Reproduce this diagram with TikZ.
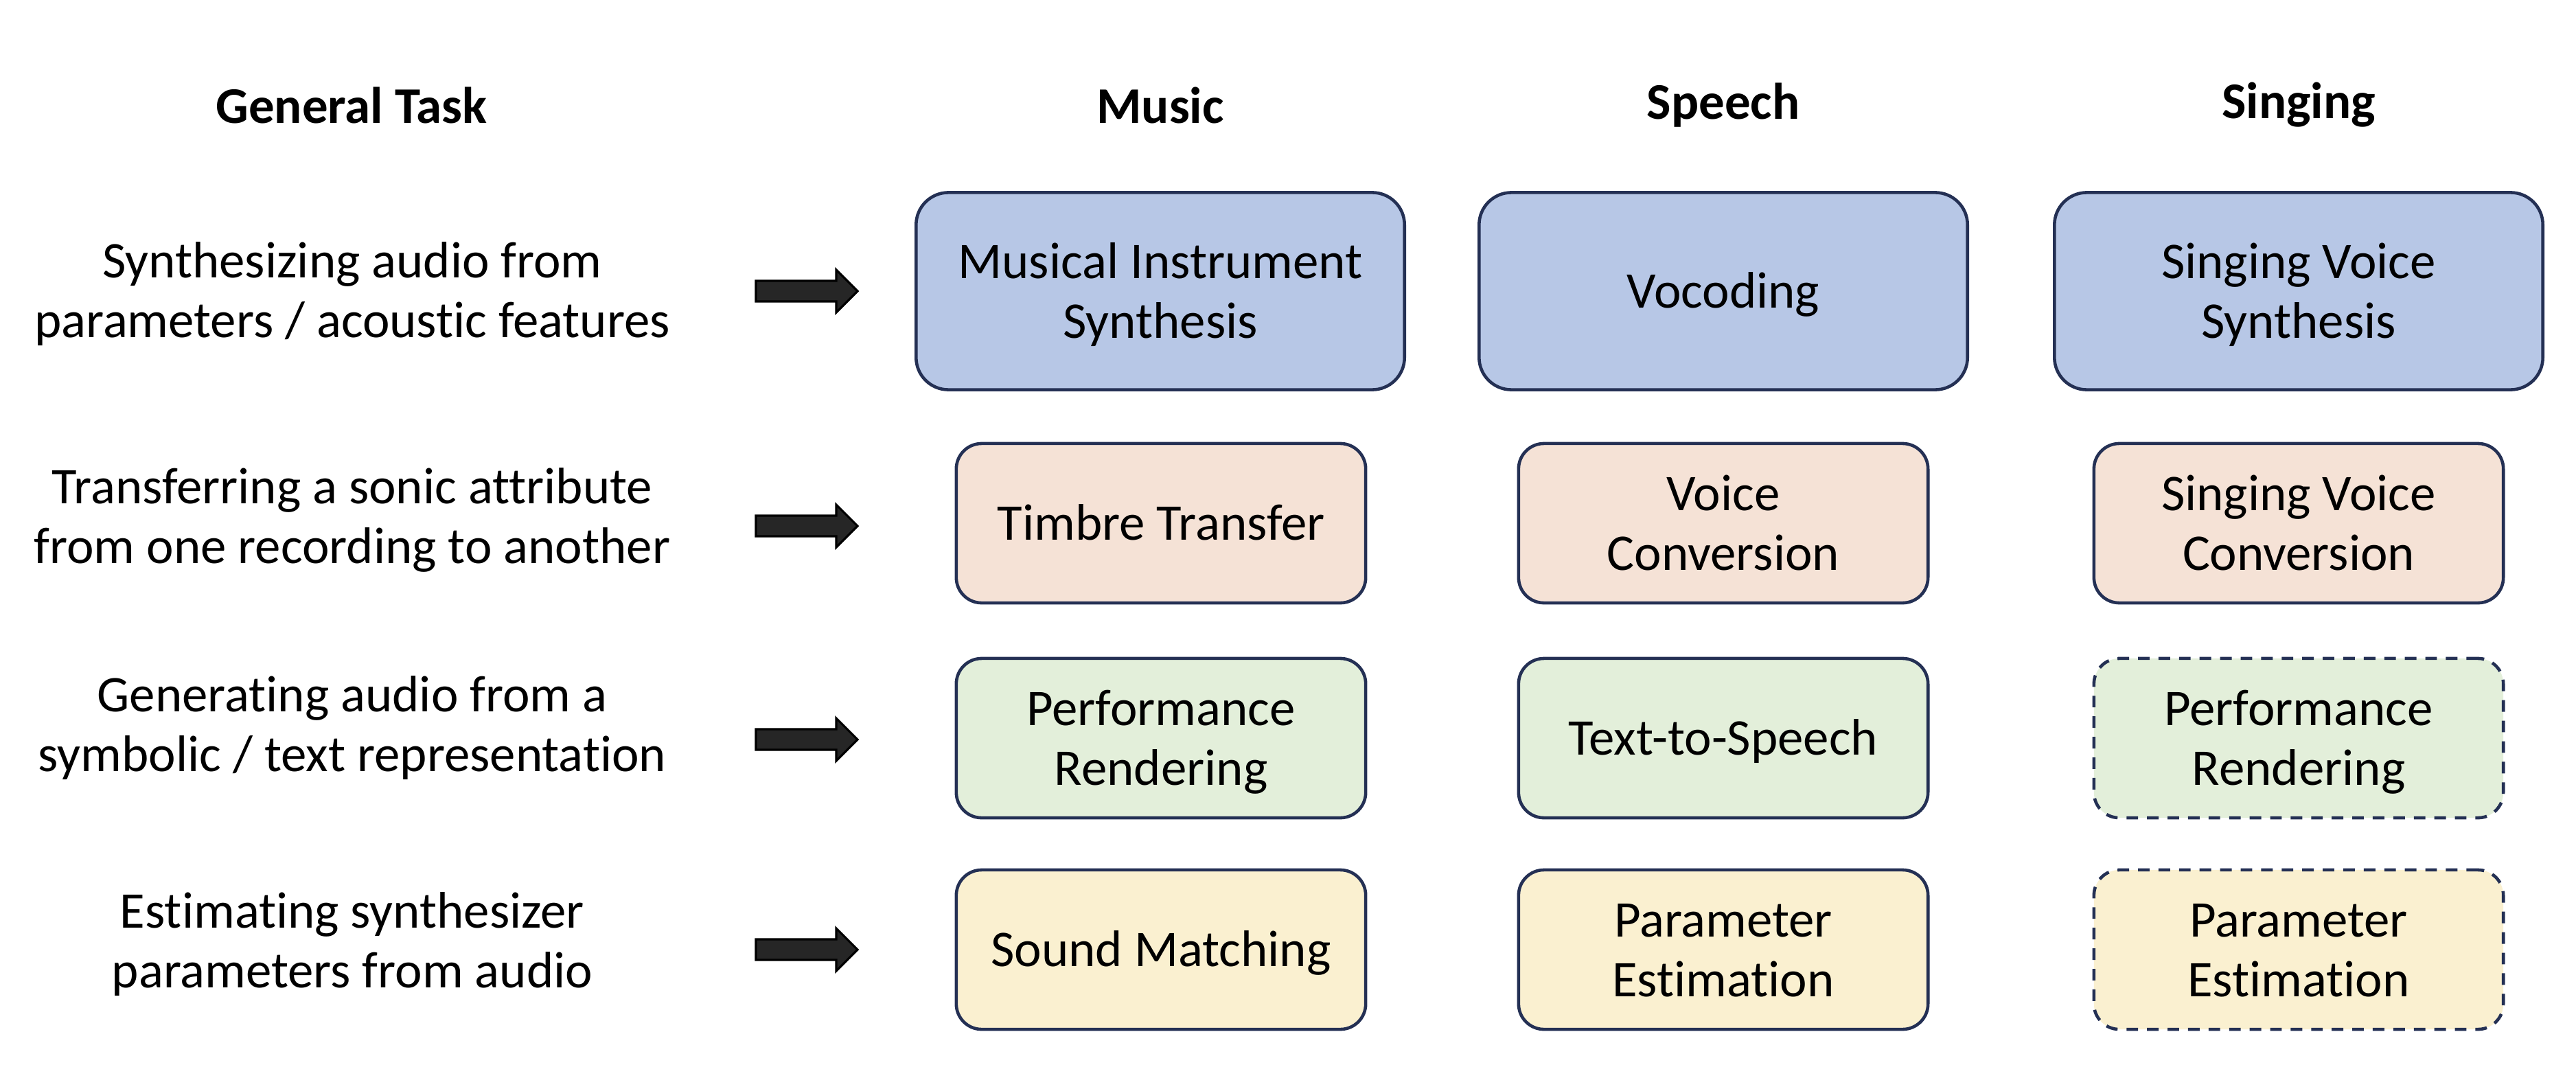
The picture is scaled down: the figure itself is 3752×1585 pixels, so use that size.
\documentclass[tikz,border=0pt]{standalone}
\usepackage{fontspec}
\setmainfont{Carlito}[Ligatures=NoCommon]
\usetikzlibrary{positioning}
\definecolor{boxline}{HTML}{243054}
\definecolor{arrowfill}{HTML}{262626}
\definecolor{synthblue}{HTML}{B7C7E6}
\definecolor{transpeach}{HTML}{F5E2D6}
\definecolor{rendgreen}{HTML}{E3EFDA}
\definecolor{estyellow}{HTML}{FAF0D0}
\newcommand{\diagfont}{\fontsize{21.3}{24.7}\selectfont}
\tikzset{
	taskbox/.style={draw=boxline, line width=1.3pt, rounded corners=0.37cm, minimum width=5.96cm, minimum height=2.32cm, align=center, inner sep=0pt,
		text height=19pt, text depth=5pt},
	twoline/.style={text height=43.7pt},
	bigbox/.style={taskbox, rounded corners=0.47cm, minimum width=7.11cm, minimum height=2.87cm},
	maybe/.style={dash pattern=on 4.8pt off 3.7pt},
	colhead/.style={font=\diagfont\bfseries},
	tasktext/.style={align=center}
}
\begin{document}
\begin{tikzpicture}[x=0.01cm, y=-0.01cm, font=\diagfont, line join=round]
	\useasboundingbox (0,0) rectangle (3752,1585);
	% Tieu de cot
	\node[colhead] (hgen) at (512,153) {General Task};
	\node[colhead] (hmus) at (1690,153) {Music};
	\node[colhead] (hspe) at (2510,153) {Speech};
	\node[colhead] (hsin) at (3348,153) {Singing};
	% Nhiem vu chung
	\node[tasktext] (t1) at (513,428) {Synthesizing audio from\\parameters / acoustic features};
	\node[tasktext] (t2) at (513,757) {Transferring a sonic attribute\\from one recording to another};
	\node[tasktext] (t3) at (513,1060) {Generating audio from a\\symbolic / text representation};
	\node[tasktext] (t4) at (513,1375) {Estimating synthesizer\\parameters from audio};
	% Mui ten
	\foreach \y in {424,766,1077,1383}
		\draw[fill=arrowfill, line width=0.9pt, line join=miter] (1101,{\y-15}) -- (1218,{\y-15}) -- (1218,{\y-31}) -- (1249,\y) -- (1218,{\y+31}) -- (1218,{\y+15}) -- (1101,{\y+15}) -- cycle;
	% Hang 1
	\node[bigbox, twoline, fill=synthblue] (m1) at (1690,424) {Musical Instrument\\Synthesis};
	\node[bigbox, fill=synthblue] (s1) at (2510,424) {Vocoding};
	\node[bigbox, twoline, fill=synthblue] (g1) at (3348,424) {Singing Voice\\Synthesis};
	% Hang 2
	\node[taskbox, fill=transpeach] (m2) at (1691,762) {Timbre Transfer};
	\node[taskbox, twoline, fill=transpeach] (s2) at (2510,762) {Voice\\Conversion};
	\node[taskbox, twoline, fill=transpeach] (g2) at (3348,762) {Singing Voice\\Conversion};
	% Hang 3
	\node[taskbox, twoline, fill=rendgreen] (m3) at (1691,1075) {Performance\\Rendering};
	\node[taskbox, fill=rendgreen] (s3) at (2510,1075) {Text-to-Speech};
	\node[taskbox, twoline, fill=rendgreen, maybe] (g3) at (3348,1075) {Performance\\Rendering};
	% Hang 4
	\node[taskbox, fill=estyellow] (m4) at (1691,1383) {Sound Matching};
	\node[taskbox, twoline, fill=estyellow] (s4) at (2510,1383) {Parameter\\Estimation};
	\node[taskbox, twoline, fill=estyellow, maybe] (g4) at (3348,1383) {Parameter\\Estimation};
\end{tikzpicture}
\end{document}
